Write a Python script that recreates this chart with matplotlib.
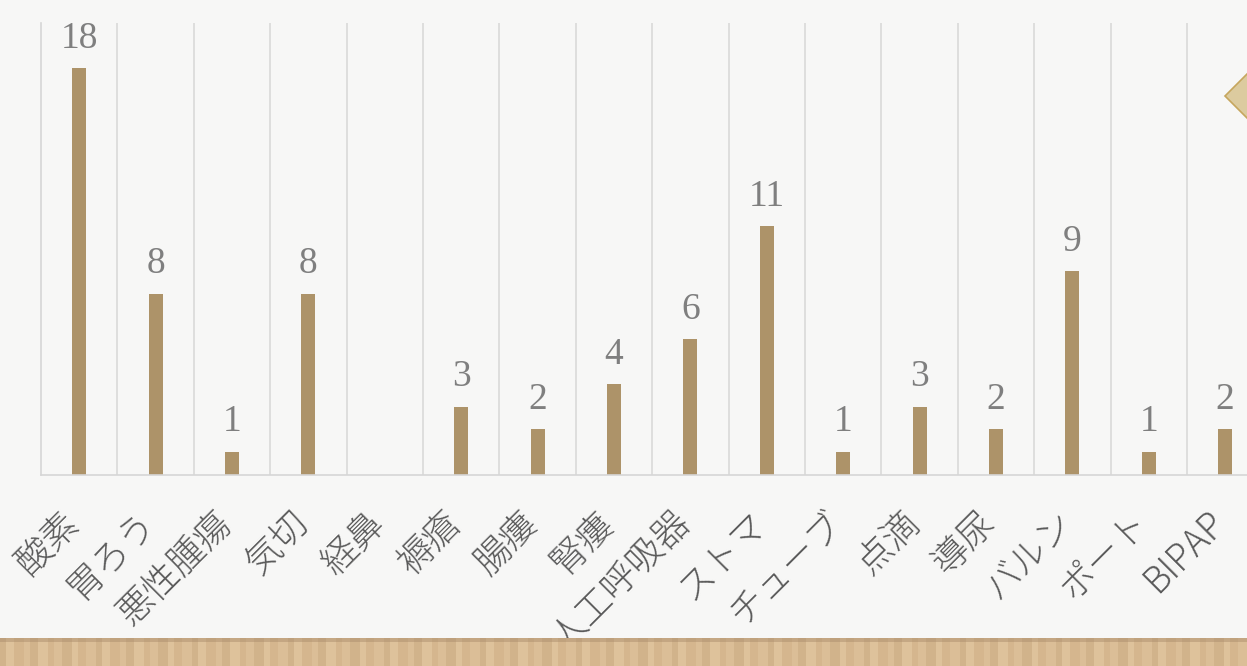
import matplotlib
matplotlib.use("Agg")
import matplotlib.pyplot as plt
from matplotlib.patches import Rectangle, Polygon
from matplotlib.transforms import ScaledTranslation
import numpy as np

categories = ["酸素", "胃ろう", "悪性腫瘍", "気切", "経鼻", "褥瘡", "腸瘻", "腎瘻",
              "人工呼吸器", "ストマ", "チューブ", "点滴", "導尿", "バルン", "ポート", "BIPAP"]
values = [18, 8, 1, 8, 0, 3, 2, 4, 6, 11, 1, 3, 2, 9, 1, 2]

W, H = 1247, 666
fig = plt.figure(figsize=(W / 100, H / 100), dpi=100)
fig.patch.set_facecolor("#f7f7f6")

# bottom wood band
band_top = 638
fig.patches.append(Rectangle((0, 0), 1, (H - band_top) / H, transform=fig.transFigure,
                             facecolor="#d9bb93", edgecolor="none", zorder=0))
shades = ["#cdae86", "#e2c7a2", "#d3b48b", "#ddc19b"]
x = 0
k = 0
while x < W:
    w = 6 + (k % 3) * 2
    fig.patches.append(Rectangle((x / W, 0), w / W, (H - band_top) / H, transform=fig.transFigure,
                                 facecolor=shades[k % 4], edgecolor="none", alpha=0.6, zorder=0))
    x += w
    k += 1
fig.patches.append(Rectangle((0, (H - band_top - 4) / H), 1, 4 / H, transform=fig.transFigure,
                             facecolor="#a88a6a", edgecolor="none", alpha=0.45, zorder=0))

# decorative diamond at right edge
cx, cy, r = 1262, 96, 37
pts = [((cx - r) / W, (H - cy) / H), (cx / W, (H - cy + r) / H),
       ((cx + r) / W, (H - cy) / H), (cx / W, (H - cy - r) / H)]
fig.patches.append(Polygon(pts, closed=True, transform=fig.transFigure,
                           facecolor="#dccb9f", edgecolor="#c6a65e", linewidth=1.2, zorder=1))

left_px, base_px, top_px = 41, 474.5, 23
cat_w = 76.4
n = len(categories)
ax = fig.add_axes([left_px / W, (H - base_px) / H, n * cat_w / W, (base_px - top_px) / H])
ax.set_facecolor("none")
ax.set_xlim(-0.5, n - 0.5)
ax.set_ylim(0, 20)

for s in ["top", "right"]:
    ax.spines[s].set_visible(False)
for s in ["left", "bottom"]:
    ax.spines[s].set_color("#d6d6d6")
    ax.spines[s].set_linewidth(1.2)

for b in np.arange(0.5, n - 0.5, 1.0):
    ax.axvline(b, color="#d9d9d9", linewidth=1.2, zorder=0)

xs = np.arange(n)
ax.bar(xs, values, width=0.183, color="#ad9369", zorder=2)

for xi, v in zip(xs, values):
    if v > 0:
        ax.annotate(str(v), (xi, v), xytext=(0, 9), textcoords="offset points",
                    ha="center", va="bottom", fontsize=27, color="#7f7f7f",
                    family=["Liberation Serif", "DejaVu Serif"])

ax.set_yticks([])
ax.set_xticks(xs)
ax.set_xticklabels(categories, rotation=45, ha="right", va="top",
                   fontsize=26, color="#5a5a5a", fontweight="light",
                   family=["Noto Sans CJK JP", "DejaVu Sans"])
ax.tick_params(axis="x", length=0, pad=21)
shift = ScaledTranslation(0.08, 0, fig.dpi_scale_trans)
for lab in ax.get_xticklabels():
    lab.set_transform(lab.get_transform() + shift)

fig.savefig("out.png", dpi=100, facecolor=fig.get_facecolor())
